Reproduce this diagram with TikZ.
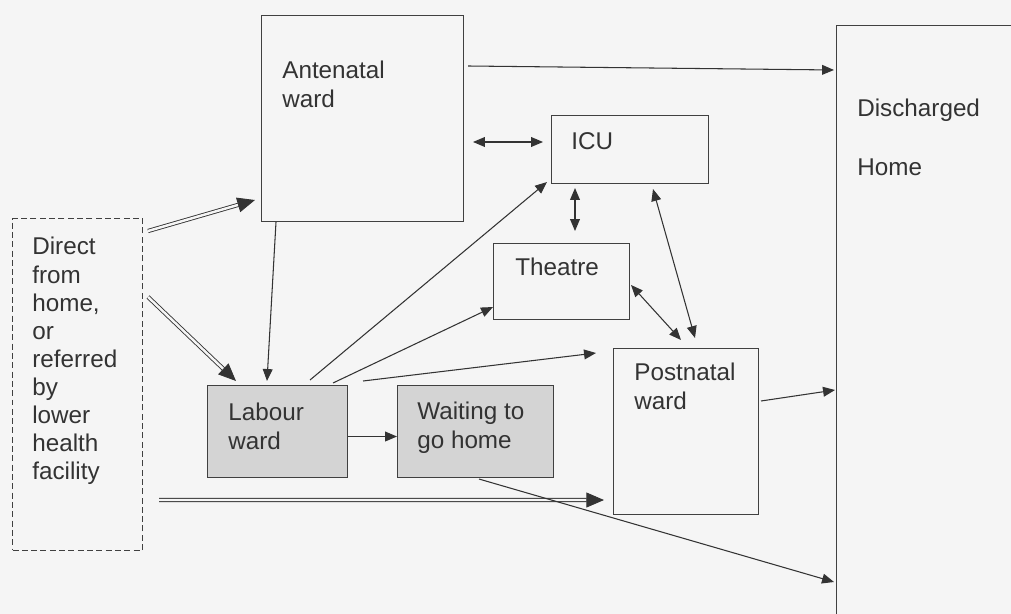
\documentclass[tikz,border=0pt]{standalone}
\usepackage{fontspec}
\setmainfont{Liberation Sans}
\usetikzlibrary{arrows.meta}

\tikzset{
  ward/.style={draw=black!75, line width=0.6pt, rectangle, inner sep=0pt, anchor=north west},
  busy/.style={ward, fill=black!17},
  lbl/.style={anchor=north west, align=left, inner sep=0pt, text=black!80,
    font=\fontsize{13.8}{16}\selectfont},
  tip/.style={Triangle[length=6.8pt,width=5.6pt]},
  flow/.style={draw=black!80, line width=0.6pt, -{Triangle[length=6.8pt,width=5.6pt]}},
  both/.style={draw=black!80, line width=0.6pt,
    {Triangle[length=6.8pt,width=5.6pt]}-{Triangle[length=6.8pt,width=5.6pt]}},
  intake/.style={draw=black!80, line width=0.5pt, double=black!4, double distance=1.4pt,
    -{Triangle[length=10pt,width=8.5pt]}}
}

\begin{document}
\begin{tikzpicture}[x=0.02cm, y=-0.02cm]
    \useasboundingbox[fill=black!4] (0,0) rectangle (1011,614);
    \clip (0,0) rectangle (1011,614);

    % boxes
    \node[ward, minimum width=4.04cm, minimum height=4.12cm] (ante) at (261,15) {};
    \node[ward, minimum width=3.14cm, minimum height=1.36cm] (icu) at (551,115) {};
    \node[ward, minimum width=2.72cm, minimum height=1.52cm] (theatre) at (493,243) {};
    \node[ward, minimum width=2.9cm, minimum height=3.32cm] (post) at (613,348) {};
    \node[ward, minimum width=5cm, minimum height=13cm] (disch) at (836,25) {};
    \node[busy, minimum width=2.8cm, minimum height=1.84cm] (labour) at (207,385) {};
    \node[busy, minimum width=3.12cm, minimum height=1.84cm] (wait) at (397,385) {};
    \node[ward, dash pattern=on 3.4pt off 1.9pt, minimum width=2.6cm, minimum height=6.64cm] (direct) at (12,218) {};

    % texts
    \node[lbl] (anteT) at ([shift={(21,46)}]ante.north west) {Antenatal\\ward};
    \node[lbl] (icuT) at ([shift={(20,17)}]icu.north west) {ICU};
    \node[lbl] (theatreT) at ([shift={(22,15)}]theatre.north west) {Theatre};
    \node[lbl] (postT) at ([shift={(21,15)}]post.north west) {Postnatal\\ward};
    \node[lbl] (labourT) at ([shift={(21,18)}]labour.north west) {Labour\\ward};
    \node[lbl] (waitT) at ([shift={(20,17)}]wait.north west) {Waiting to\\go home};
    \node[lbl] (directT) at ([shift={(20,19)}]direct.north west)
        {Direct\\from\\home,\\or\\referred\\by\\lower\\health\\facility};
    \node[lbl] (dischT) at ([shift={(21,74)}]disch.north west) {Discharged\\[17.6pt]Home};

    % admissions
    \draw[intake] ([shift={(5,13)}]direct.north east) -- ([shift={(-6,-22)}]ante.south west);
    \draw[intake] ([shift={(5,79)}]direct.north east) -- ([shift={(29,-4)}]labour.north west);
    \draw[intake] ([shift={(16,-51)}]direct.south east) -- ([shift={(-9,-15)}]post.south west);

    % transfers
    \draw[flow] ([shift={(4,51)}]ante.north east) -- ([shift={(-2,45)}]disch.north west);
    \draw[both] ([shift={(9,127)}]ante.north east) -- ([shift={(-8,27)}]icu.north west);
    \draw[both] ([shift={(24,4)}]icu.south west) -- ([shift={(82,-12)}]theatre.north west);
    \draw[both] ([shift={(102,5)}]icu.south west) -- ([shift={(82,-10)}]post.north west);
    \draw[both] ([shift={(1,42)}]theatre.north east) -- ([shift={(68,-8)}]post.north west);
    \draw[flow] ([shift={(15,0)}]ante.south west) -- ([shift={(60,-4)}]labour.north west);
    \draw[flow] ([shift={(103,-5)}]labour.north west) -- ([shift={(-4,-2)}]icu.south west);
    \draw[flow] ([shift={(126,-2)}]labour.north west) -- ([shift={(0,-13)}]theatre.south west);
    \draw[flow] ([shift={(15,-4)}]labour.north east) -- ([shift={(-17,5)}]post.north west);
    \draw[flow] ([shift={(0,5)}]labour.east) -- ([shift={(0,5)}]wait.west);
    \draw[flow] ([shift={(2,53)}]post.north east) -- ([shift={(-1,365)}]disch.north west);
    \draw[flow] ([shift={(82,1)}]wait.south west) -- ([shift={(-2,557)}]disch.north west);
\end{tikzpicture}
\end{document}
